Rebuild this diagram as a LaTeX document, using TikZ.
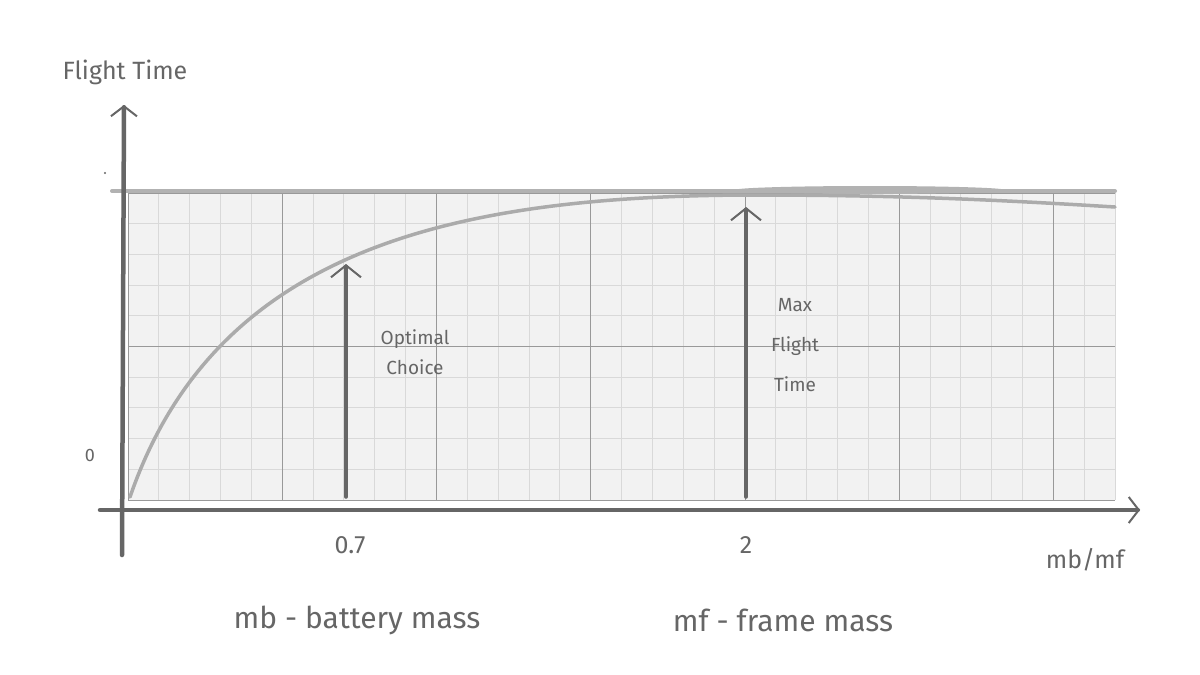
\documentclass[tikz,border=0pt]{standalone}
\usepackage{fontspec}
\setmainfont{Fira Sans}
\usetikzlibrary{arrows.meta}
\definecolor{axis}{HTML}{666666}
\definecolor{curve}{HTML}{ABABAB}
\begin{document}
\begin{tikzpicture}[x=1pt,y=-1pt,
  ax/.style={draw=axis,line width=4.5pt,line cap=round,-{Straight Barb[length=10pt,width=26pt,line width=2pt]}},
  marker/.style={draw=axis,line width=3.5pt,line cap=round,-{Straight Barb[length=12pt,width=30pt,line width=2pt]}},
  lbl/.style={text=axis,font=\fontsize{25}{30}\selectfont},
  sm/.style={text=axis,font=\fontsize{19}{30}\selectfont,align=center}]
\useasboundingbox (0,0) rectangle (1200,675);
\fill[white] (0,0) rectangle (1200,675);
\fill[black!5] (128,193) rectangle (1115,500);
\foreach \i in {0,...,32} {\draw[black!15,line width=1pt] ({128+\i*30.85},193) -- ({128+\i*30.85},500);}
\foreach \i in {0,...,10} {\draw[black!15,line width=1pt] (128,{193+\i*30.7}) -- (1115,{193+\i*30.7});}
\foreach \i in {0,5,...,30} {\draw[black!40,line width=1pt] ({128+\i*30.85},193) -- ({128+\i*30.85},500);}
\foreach \i in {0,5,10} {\draw[black!40,line width=1pt] (128,{193+\i*30.7}) -- (1115,{193+\i*30.7});}
\draw[black!30,line width=4pt,line cap=round] (112,191) -- (1115,191);
\fill[black!30] (870,190) ellipse (135 and 4);
\draw[curve,line width=3.5pt,line cap=round] (130,497) .. controls (215,250) and (450,196) .. (750,195) .. controls (900,195) and (1000,200) .. (1115,207);
\coordinate (yb) at (122,555); \coordinate (yt) at (124,105);
\coordinate (xb) at (100,510); \coordinate (xt) at (1140,510);
\draw[ax] (yb) -- (yt);
\draw[ax] (xb) -- (xt);
\coordinate (a1) at (346,497); \coordinate (a1t) at (346,264);
\coordinate (a2) at (746,497); \coordinate (a2t) at (746,207);
\draw[marker] (a1) -- (a1t);
\draw[marker] (a2) -- (a2t);
\fill[axis] (105,173) circle (1.2);
\node[lbl] (ft) at (125,72) {Flight Time};
\node[lbl,font=\fontsize{18}{20}\selectfont] (z) at (90,455) {0};
\node[lbl] (t07) at (350,545) {0.7};
\node[lbl] (t2) at (746,545) {2};
\node[lbl] (r) at (1085,560) {mb/mf};
\node[lbl,font=\fontsize{30}{34}\selectfont] (mb) at (357,620) {mb - battery mass};
\node[lbl,font=\fontsize{30}{34}\selectfont] (mf) at (783,620) {mf - frame mass};
\node[sm] (oc) at (415,352) {Optimal\\Choice};
\node[sm,font=\fontsize{19}{40}\selectfont] (mx) at (795,345) {Max\\Flight\\Time};
\end{tikzpicture}
\end{document}
